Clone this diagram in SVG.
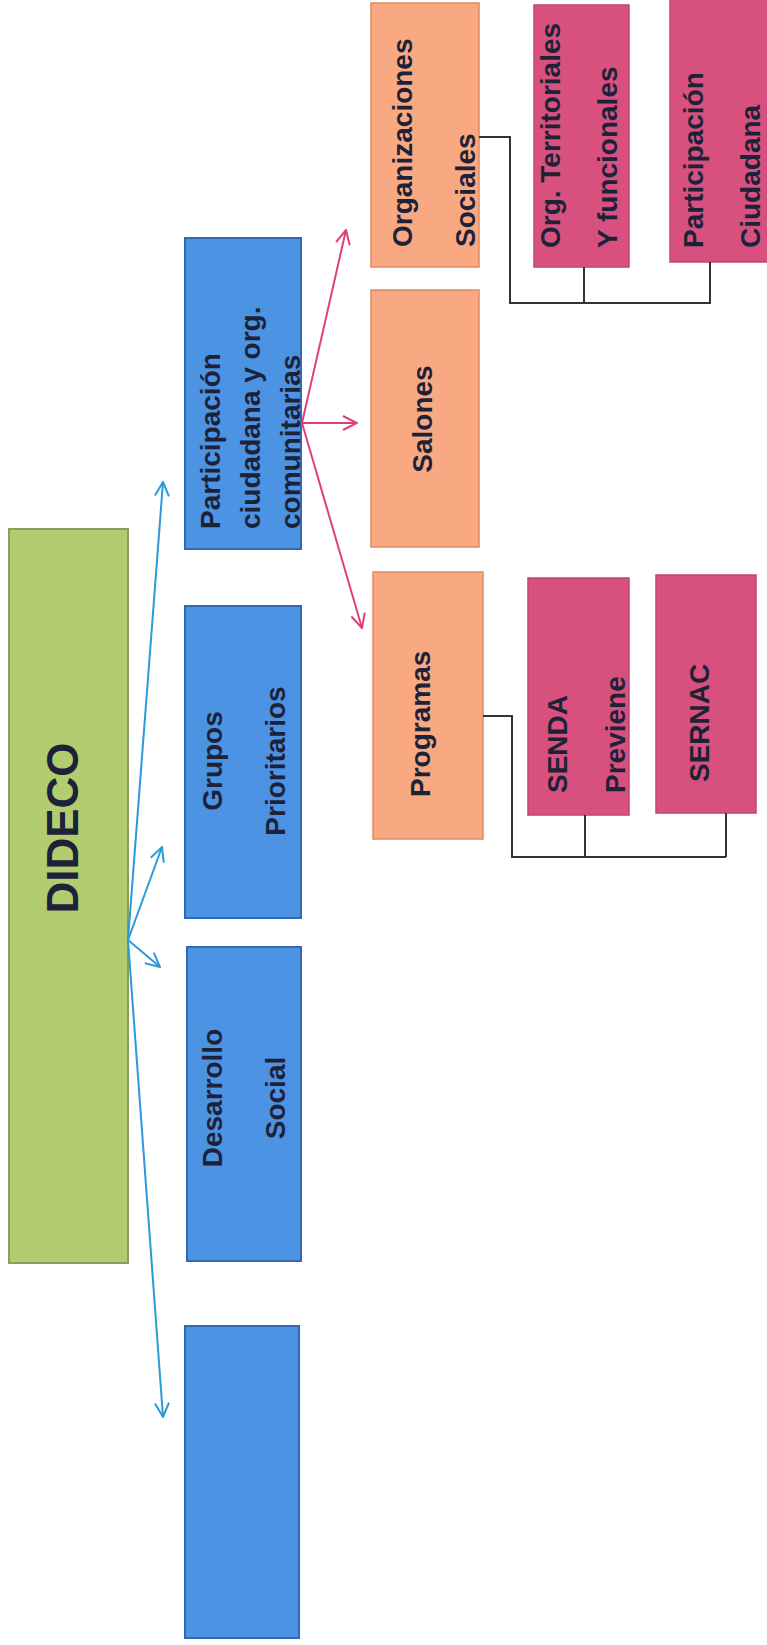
<svg xmlns="http://www.w3.org/2000/svg" width="767" height="1645" viewBox="0 0 767 1645">
<defs>
<style>
.txt{font-family:"Liberation Sans",Arial,sans-serif;font-weight:bold;font-size:28px;fill:#1d2238}
.green{fill:#b1cd6f;stroke:#8c9c5c;stroke-width:2}
.blue{fill:#4d93e3;stroke:#3468b5;stroke-width:2}
.orange{fill:#f9a982;stroke:#e08862;stroke-width:1.5}
.pink{fill:#d8517e;stroke:#c04470;stroke-width:1.5}
.bl{stroke:#2a9ad8;stroke-width:2;fill:none}
.pl{stroke:#e0407a;stroke-width:2;fill:none}
.br{stroke:#333;stroke-width:2;fill:none}
</style>
<marker id="ab" markerUnits="userSpaceOnUse" markerWidth="16" markerHeight="16" viewBox="0 0 16 16" refX="15" refY="8" orient="auto">
<path d="M1,1 L15,8 L1,15" fill="none" stroke="#2a9ad8" stroke-width="2"/>
</marker>
<marker id="ap" markerUnits="userSpaceOnUse" markerWidth="16" markerHeight="16" viewBox="0 0 16 16" refX="15" refY="8" orient="auto">
<path d="M1,1 L15,8 L1,15" fill="none" stroke="#e0407a" stroke-width="2"/>
</marker>
</defs>
<rect width="767" height="1645" fill="#ffffff"/>

<g id="dideco">
<rect class="green" x="9" y="529" width="119" height="734"/>
<text class="txt" style="font-size:44px" text-anchor="middle" transform="translate(78,828) rotate(-90)">DIDECO</text>
</g>

<g id="participacion">
<rect class="blue" x="185" y="238" width="116" height="311"/>
<text class="txt" transform="translate(220,529) rotate(-90)"><tspan x="0" y="0">Participación</tspan><tspan x="0" y="40">ciudadana y org.</tspan><tspan x="0" y="80">comunitarias</tspan></text>
</g>

<g id="grupos">
<rect class="blue" x="185" y="606" width="116" height="312"/>
<text class="txt" text-anchor="middle" transform="translate(222,761) rotate(-90)"><tspan x="0" y="0">Grupos</tspan><tspan x="0" y="63">Prioritarios</tspan></text>
</g>

<g id="desarrollo">
<rect class="blue" x="187" y="947" width="114" height="314"/>
<text class="txt" text-anchor="middle" transform="translate(222,1098) rotate(-90)"><tspan x="0" y="0">Desarrollo</tspan><tspan x="0" y="63">Social</tspan></text>
</g>

<g id="blank">
<rect class="blue" x="185" y="1326" width="114" height="312"/>
</g>

<g id="orgsociales">
<rect class="orange" x="371" y="3" width="108" height="264"/>
<text class="txt" transform="translate(412,247) rotate(-90)"><tspan x="0" y="0">Organizaciones</tspan><tspan x="0" y="63">Sociales</tspan></text>
</g>

<g id="salones">
<rect class="orange" x="371" y="290" width="108" height="257"/>
<text class="txt" text-anchor="middle" transform="translate(432,419) rotate(-90)">Salones</text>
</g>

<g id="programas">
<rect class="orange" x="373" y="572" width="110" height="267"/>
<text class="txt" transform="translate(430,797) rotate(-90)">Programas</text>
</g>

<g id="orgterritoriales">
<rect class="pink" x="534" y="5" width="95" height="262"/>
<text class="txt" transform="translate(560,248) rotate(-90)"><tspan x="0" y="0">Org. Territoriales</tspan><tspan x="0" y="57">Y funcionales</tspan></text>
</g>

<g id="partciudadana">
<rect class="pink" x="670" y="-2" width="110" height="264"/>
<text class="txt" transform="translate(703,248) rotate(-90)"><tspan x="0" y="0">Participación</tspan><tspan x="0" y="57">Ciudadana</tspan></text>
</g>

<g id="senda">
<rect class="pink" x="528" y="578" width="101" height="237"/>
<text class="txt" transform="translate(567,793) rotate(-90)"><tspan x="0" y="0">SENDA</tspan><tspan x="0" y="58">Previene</tspan></text>
</g>

<g id="sernac">
<rect class="pink" x="656" y="575" width="100" height="238"/>
<text class="txt" transform="translate(709,782) rotate(-90)">SERNAC</text>
</g>

<g id="connectors">
<line class="bl" x1="128" y1="940" x2="163" y2="482" marker-end="url(#ab)"/>
<line class="bl" x1="128" y1="940" x2="162" y2="847" marker-end="url(#ab)"/>
<line class="bl" x1="128" y1="940" x2="160" y2="967" marker-end="url(#ab)"/>
<line class="bl" x1="128" y1="940" x2="163" y2="1417" marker-end="url(#ab)"/>
<line class="pl" x1="302" y1="423" x2="346" y2="230" marker-end="url(#ap)"/>
<line class="pl" x1="302" y1="423" x2="357" y2="423" marker-end="url(#ap)"/>
<line class="pl" x1="302" y1="423" x2="362" y2="628" marker-end="url(#ap)"/>
<path class="br" d="M479,137 H510 V303 H711 M584,267 V303 M710,262 V303"/>
<path class="br" d="M483,716 H512 V857 H726 M585,815 V857 M726,813 V857"/>
</g>
</svg>
